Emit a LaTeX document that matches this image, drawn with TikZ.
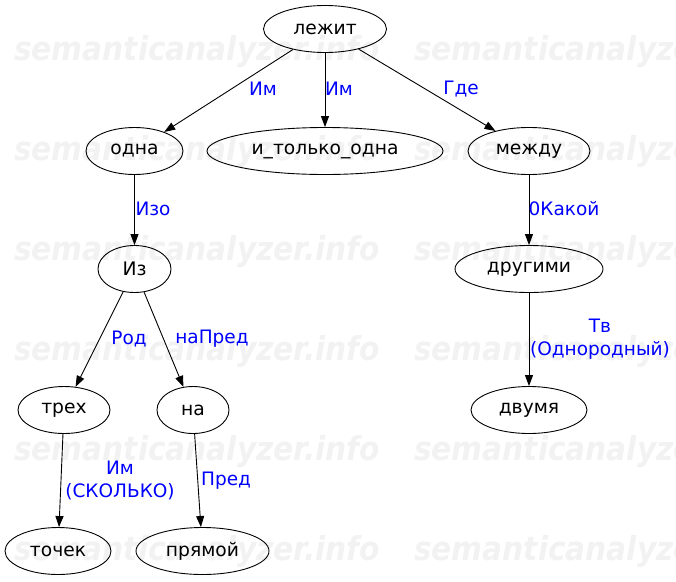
\documentclass[tikz,border=0pt]{standalone}
\usepackage{fontspec}
\setmainfont{DejaVu Sans}
\usetikzlibrary{arrows.meta, shapes.geometric}

\begin{document}
\begin{tikzpicture}[x=1pt, y=-1pt,
    word/.style={draw, ellipse, line width=0.9pt, inner sep=0pt, minimum height=47pt, font=\fontsize{18.7}{22}\selectfont},
    rel/.style={text=blue, align=center, inner sep=0pt, font=\fontsize{18.5}{23}\selectfont},
    link/.style={line width=0.9pt, -{Triangle[length=11pt, width=8pt]}},
    stamp/.style={text=black!5, anchor=base west, inner sep=0pt, xscale=1.14, yscale=1.27, transform shape,
        font=\fontsize{26}{26}\bfseries\itshape\selectfont}]
    \useasboundingbox (0,0) rectangle (676,581);

    % Watermark
    \foreach \row in {0,...,5} {
        \node[stamp] (wmA\row) at (14,60+100*\row) {semanticanalyzer.info};
        \node[stamp] (wmB\row) at (414,60+100*\row) {semanticanalyzer.info};
    }

    % Words
    \node[word, minimum width=123pt] (lezhit) at (325,29) {лежит};
    \node[word, minimum width=97pt]  (odna)   at (134.5,151) {одна};
    \node[word, minimum width=236pt] (itolko) at (325,151) {и\_только\_одна};
    \node[word, minimum width=122pt] (mezhdu) at (529,151) {между};
    \node[word, minimum width=73pt]  (iz)     at (134.5,269) {Из};
    \node[word, minimum width=148pt] (drugimi) at (529,269) {другими};
    \node[word, minimum width=92pt]  (treh)   at (64,410) {трех};
    \node[word, minimum width=72pt]  (na)     at (193,410) {на};
    \node[word, minimum width=116pt] (dvumya) at (529,410) {двумя};
    \node[word, minimum width=106pt] (tochek) at (58,551) {точек};
    \node[word, minimum width=133pt] (pryamoy) at (202.5,551) {прямой};

    % Links
    \draw[link] (lezhit) -- (odna);
    \draw[link] (lezhit) -- (itolko);
    \draw[link] (lezhit) -- (mezhdu);
    \draw[link] (odna) -- (iz);
    \draw[link] (iz) -- (treh);
    \draw[link] (iz) -- (na);
    \draw[link] (treh) -- (tochek);
    \draw[link] (na) -- (pryamoy);
    \draw[link] (mezhdu) -- (drugimi);
    \draw[link] (drugimi) -- (dvumya);

    % Relation labels
    \node[rel] (rIm1)  at (263,89)  {Им};
    \node[rel] (rIm2)  at (339,89)  {Им};
    \node[rel] (rGde)  at (461,89)  {Где};
    \node[rel] (rIzo)  at (153,209) {Изо};
    \node[rel] (rKak)  at (564,209) {0Какой};
    \node[rel] (rRod)  at (129,339) {Род};
    \node[rel] (rNaPr) at (212,339) {наПред};
    \node[rel] (rTv)   at (600,339) {Тв\\(Однородный)};
    \node[rel] (rIm3)  at (120,480) {Им\\(СКОЛЬКО)};
    \node[rel] (rPred) at (226,481) {Пред};
\end{tikzpicture}
\end{document}
